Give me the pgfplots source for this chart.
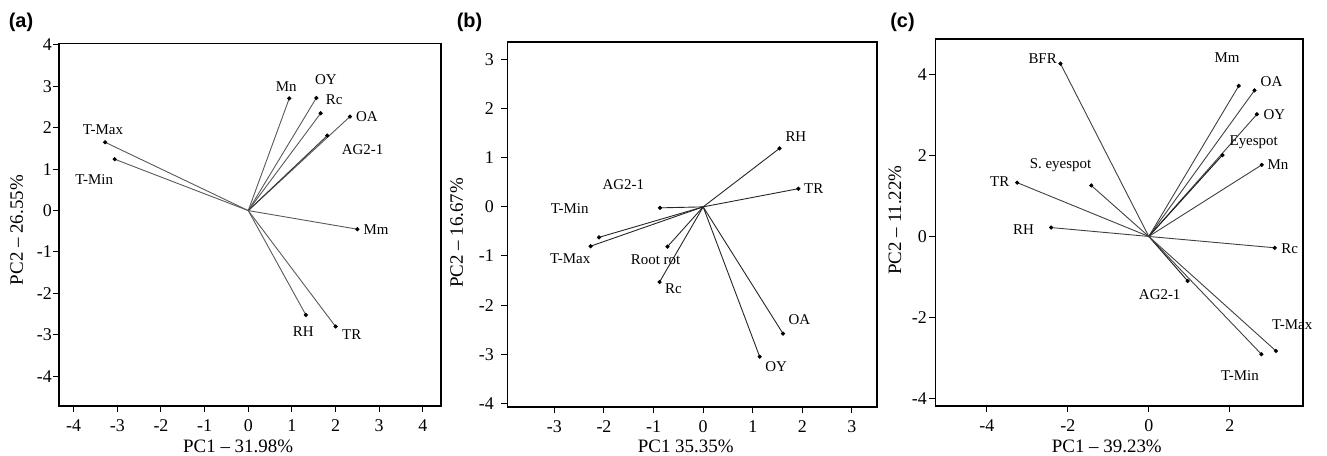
\documentclass[border=0pt]{standalone}
\usepackage{pgfplots}
\pgfplotsset{compat=1.18}
\usepackage{fontspec}
\setmainfont{Liberation Serif}
\newfontfamily\panelfont{Liberation Sans}
\tikzset{lab/.style={font=\fontsize{15}{16}\selectfont}}
\begin{document}
\begin{tikzpicture}
\useasboundingbox (0,0) rectangle (1327bp,456bp);
\pgfplotsset{
  pca/.style={scale only axis, anchor=south west, clip=false,
    axis line style={line width=1.6bp},
    tick align=outside, xtick pos=bottom, ytick pos=left,
    major tick length=6bp, tick style={line width=1bp, black},
    /pgf/number format/assume math mode=true,
    tick label style={font=\fontsize{18}{18}\selectfont},
    xticklabel style={yshift=-4bp}},
  xl/.style 2 args={every axis x label/.style={at={(axis description cs:#1,#2)}, anchor=base, font=\fontsize{19}{20}\selectfont}},
  yl/.style 2 args={every axis y label/.style={at={(axis description cs:#1,#2)}, rotate=90, anchor=center, font=\fontsize{19}{20}\selectfont}},
  vec/.style={line width=0.9bp, mark=*, mark size=1.6pt, mark indices={2}, mark options={fill=black, draw=black, solid}},
}
% ---------- (a)
\begin{axis}[pca, at={(59.3bp,50bp)}, width=381.4bp, height=362.7bp,
  xmin=-4.33, xmax=4.41, ymin=-4.72, ymax=4.04,
  xtick={-4,...,4}, ytick={-4,...,4},
  yticklabel style={xshift=2bp},
  xl={0.469}{-0.1288}, yl={-0.1117}{0.485},
  xlabel={PC1 -- 31.98\%}, ylabel={PC2 -- 26.55\%}]
\addplot[vec, black!65] coordinates {(0,0) (0.94,2.71)};
\addplot[vec, black!65] coordinates {(0,0) (1.56,2.72)};
\addplot[vec, black!65] coordinates {(0,0) (1.66,2.35)};
\addplot[vec, black!65] coordinates {(0,0) (2.33,2.27)};
\addplot[vec, black!80] coordinates {(0,0) (1.81,1.81)};
\addplot[vec, black!65] coordinates {(0,0) (-3.28,1.65)};
\addplot[vec, black!65] coordinates {(0,0) (-3.06,1.24)};
\addplot[vec, black!65] coordinates {(0,0) (2.50,-0.45)};
\addplot[vec, black!65] coordinates {(0,0) (1.32,-2.52)};
\addplot[vec, black!65] coordinates {(0,0) (2.00,-2.80)};
\node[lab] at (axis cs:0.87,3.0) {Mn};
\node[lab] at (axis cs:1.78,3.16) {OY};
\node[lab] at (axis cs:1.97,2.67) {Rc};
\node[lab] at (axis cs:2.72,2.26) {OA};
\node[lab] at (axis cs:2.62,1.47) {AG2-1};
\node[lab] at (axis cs:-3.33,1.95) {T-Max};
\node[lab] at (axis cs:-3.53,0.74) {T-Min};
\node[lab] at (axis cs:2.93,-0.47) {Mm};
\node[lab] at (axis cs:1.26,-2.92) {RH};
\node[lab] at (axis cs:2.37,-2.99) {TR};
\end{axis}
% ---------- (b)
\begin{axis}[pca, at={(507.3bp,48.7bp)}, width=369.4bp, height=365bp,
  xmin=-3.95, xmax=3.50, ymin=-4.08, ymax=3.35,
  xtick={-3,...,3}, ytick={-4,...,3},
  yticklabel style={xshift=-4bp},
  xl={0.483}{-0.1244}, yl={-0.137}{0.4775},
  xlabel={PC1 35.35\%}, ylabel={PC2 -- 16.67\%}]
\addplot[vec, black!85] coordinates {(0,0) (1.54,1.19)};
\addplot[vec, black!85] coordinates {(0,0) (1.92,0.37)};
\addplot[vec, black!85] coordinates {(0,0) (-0.87,-0.02)};
\addplot[vec, black!85] coordinates {(0,0) (-2.10,-0.62)};
\addplot[vec, black!85] coordinates {(0,0) (-2.27,-0.80)};
\addplot[vec, black!85] coordinates {(0,0) (-0.72,-0.81)};
\addplot[vec, black!85] coordinates {(0,0) (-0.88,-1.53)};
\addplot[vec, black!85] coordinates {(0,0) (1.61,-2.58)};
\addplot[vec, black!85] coordinates {(0,0) (1.14,-3.05)};
\node[lab] at (axis cs:1.87,1.44) {RH};
\node[lab] at (axis cs:2.23,0.37) {TR};
\node[lab] at (axis cs:-1.61,0.45) {AG2-1};
\node[lab] at (axis cs:-2.69,-0.04) {T-Min};
\node[lab] at (axis cs:-2.68,-1.06) {T-Max};
\node[lab] at (axis cs:-0.96,-1.07) {Root rot};
\node[lab] at (axis cs:-0.60,-1.66) {Rc};
\node[lab] at (axis cs:1.94,-2.29) {OA};
\node[lab] at (axis cs:1.47,-3.26) {OY};
\end{axis}
% ---------- (c)
\begin{axis}[pca, at={(935.3bp,50bp)}, width=367.4bp, height=367bp,
  xmin=-5.27, xmax=3.80, ymin=-4.19, ymax=4.88,
  xtick={-4,-2,0,2}, ytick={-4,-2,0,2,4},
  yticklabel style={xshift=1bp},
  xl={0.4668}{-0.1272}, yl={-0.1097}{0.507},
  xlabel={PC1 -- 39.23\%}, ylabel={PC2 -- 11.22\%}]
\addplot[vec, black!75] coordinates {(0,0) (-2.18,4.27)};
\addplot[vec, black!75] coordinates {(0,0) (2.22,3.72)};
\addplot[vec, black!75] coordinates {(0,0) (2.61,3.61)};
\addplot[vec, black!75] coordinates {(0,0) (2.67,3.02)};
\addplot[vec, black!90] coordinates {(0,0) (1.82,2.01)};
\addplot[vec, black!75] coordinates {(0,0) (2.79,1.77)};
\addplot[vec, black!75] coordinates {(0,0) (-1.42,1.26)};
\addplot[vec, black!75] coordinates {(0,0) (-3.25,1.33)};
\addplot[vec, black!75] coordinates {(0,0) (-2.41,0.22)};
\addplot[vec, black!75] coordinates {(0,0) (3.11,-0.28)};
\addplot[vec, black!90] coordinates {(0,0) (0.96,-1.10)};
\addplot[vec, black!75] coordinates {(0,0) (3.14,-2.83)};
\addplot[vec, black!75] coordinates {(0,0) (2.78,-2.91)};
\node[lab] at (axis cs:-2.62,4.39) {BFR};
\node[lab] at (axis cs:1.93,4.42) {Mm};
\node[lab] at (axis cs:3.03,3.82) {OA};
\node[lab] at (axis cs:3.10,3.01) {OY};
\node[lab] at (axis cs:2.59,2.34) {Eyespot};
\node[lab] at (axis cs:3.19,1.77) {Mn};
\node[lab] at (axis cs:-2.18,1.75) {S. eyespot};
\node[lab] at (axis cs:-3.68,1.35) {TR};
\node[lab] at (axis cs:-3.09,0.17) {RH};
\node[lab] at (axis cs:3.48,-0.30) {Rc};
\node[lab] at (axis cs:0.27,-1.43) {AG2-1};
\node[lab] at (axis cs:3.54,-2.19) {T-Max};
\node[lab] at (axis cs:2.25,-3.43) {T-Min};
\end{axis}
\node[font=\panelfont\bfseries\fontsize{20}{20}\selectfont] at (21bp,433.5bp) {(a)};
\node[font=\panelfont\bfseries\fontsize{20}{20}\selectfont] at (469.5bp,433.5bp) {(b)};
\node[font=\panelfont\bfseries\fontsize{20}{20}\selectfont] at (902.5bp,433.5bp) {(c)};
\end{tikzpicture}
\end{document}
